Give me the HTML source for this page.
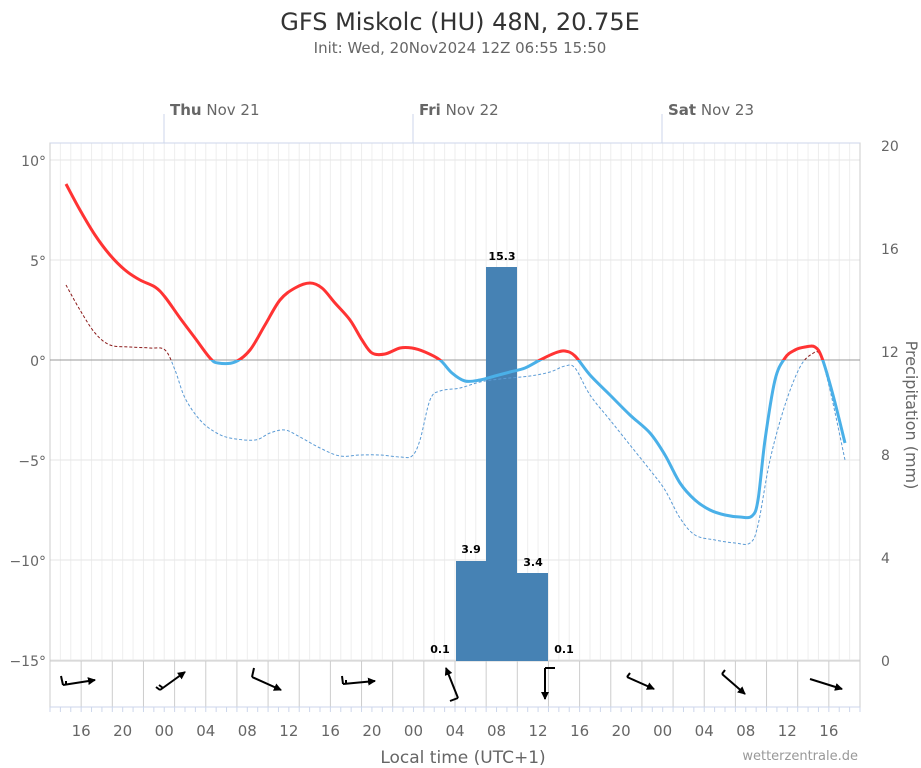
<!DOCTYPE html>
<html><head><meta charset="utf-8"><style>
body{margin:0;background:#fff;}
svg{display:block;font-family:"DejaVu Sans","Liberation Sans",sans-serif;}
</style></head><body>
<svg id="s" width="921" height="768" viewBox="0 0 921 768">
<defs>
<clipPath id="above"><rect x="40" y="100" width="840" height="260"/></clipPath>
<clipPath id="below"><rect x="40" y="360" width="840" height="320"/></clipPath>
<marker id="ah" markerWidth="8" markerHeight="8" refX="7" refY="4" orient="auto" markerUnits="userSpaceOnUse"><path d="M0,0 L8,4 L0,8 z" fill="#000"/></marker>
</defs>
<text x="460" y="30" text-anchor="middle" font-size="24" fill="#333">GFS Miskolc (HU) 48N, 20.75E</text>
<text x="460" y="53" text-anchor="middle" font-size="15" fill="#666">Init: Wed, 20Nov2024 12Z 06:55 15:50</text>
<g id="grid"></g>
<rect x="50" y="143" width="810" height="564" fill="none" stroke="#ccc"/>
<line x1="50" y1="661" x2="860" y2="661" stroke="#ccc"/>
<line x1="50" y1="707" x2="860" y2="707" stroke="#ccd6eb"/>
<line x1="50" y1="360" x2="860" y2="360" stroke="#999"/>
<line x1="50" y1="143" x2="860" y2="143" stroke="#ccd6eb"/>
<g font-size="15" fill="#666">
<line x1="164" y1="114" x2="164" y2="143" stroke="#ccd6eb"/><text x="170" y="115"><tspan font-weight="bold">Thu</tspan> Nov 21</text>
<line x1="413" y1="114" x2="413" y2="143" stroke="#ccd6eb"/><text x="419" y="115"><tspan font-weight="bold">Fri</tspan> Nov 22</text>
<line x1="662" y1="114" x2="662" y2="143" stroke="#ccd6eb"/><text x="668" y="115"><tspan font-weight="bold">Sat</tspan> Nov 23</text>
</g>
<g font-size="14" fill="#666" text-anchor="end">
<text x="46" y="166">10°</text><text x="46" y="266">5°</text><text x="46" y="366">0°</text>
<text x="46" y="466">−5°</text><text x="46" y="566">−10°</text><text x="46" y="666">−15°</text>
</g>
<g font-size="14" fill="#666" text-anchor="start">
<text x="881" y="151">20</text><text x="881" y="254">16</text><text x="881" y="357">12</text>
<text x="881" y="460">8</text><text x="881" y="563">4</text><text x="881" y="666">0</text>
</g>
<text transform="translate(906,415) rotate(90)" text-anchor="middle" font-size="16" fill="#666">Precipitation (mm)</text>
<g fill="#4682b4">
<rect x="456" y="561" width="30.5" height="100"/>
<rect x="486" y="267" width="31" height="394"/>
<rect x="517" y="573" width="31" height="88"/>
</g>
<g font-size="11" font-weight="bold" fill="#000" text-anchor="middle">
<text x="471" y="553">3.9</text><text x="502" y="260">15.3</text><text x="533" y="566">3.4</text>
<text x="440" y="653">0.1</text><text x="564" y="653">0.1</text>
</g>
<g id="curves"></g>
<g id="ticks" font-size="15" fill="#666" text-anchor="middle"></g>
<text x="463" y="763" text-anchor="middle" font-size="17" fill="#666">Local time (UTC+1)</text>
<text x="858" y="760" text-anchor="end" font-size="13" fill="#999">wetterzentrale.de</text>
<g id="wind" stroke="#000" stroke-width="2" fill="none"></g>
</svg>
<script>
var NS="http://www.w3.org/2000/svg";
function el(p,t,a){var e=document.createElementNS(NS,t);for(var k in a)e.setAttribute(k,a[k]);document.getElementById(p).appendChild(e);return e;}
var x0=50,ph=810/78;
for(var h=0;h<=78;h++){var x=x0+h*ph;el("grid","line",{x1:x,y1:143,x2:x,y2:661,stroke:"#eee"});
 if(h%3==0)el("grid","line",{x1:x,y1:661,x2:x,y2:707,stroke:"#ccc"});
 el("grid","line",{x1:x,y1:707,x2:x,y2:712,stroke:"#ccd6eb"});}
for(var y=160;y<661;y+=100)el("grid","line",{x1:50,y1:y,x2:860,y2:y,stroke:"#e6e6e6"});
var labs=["16","20","00","04","08","12"];
for(var h=3,i=0;h<=78;h+=4,i++){el("ticks","text",{x:x0+h*ph,y:736}).textContent=labs[i%6];}
function smooth(p){var d="M"+p[0][0]+","+p[0][1];for(var i=0;i<p.length-1;i++){var a=p[i-1]||p[i],b=p[i],c=p[i+1],e=p[i+2]||c;
d+=" C"+(b[0]+(c[0]-a[0])/6)+","+(b[1]+(c[1]-a[1])/6)+" "+(c[0]-(e[0]-b[0])/6)+","+(c[1]-(e[1]-b[1])/6)+" "+c[0]+","+c[1];}return d;}
var T=[[66,184],[80,210],[95,235],[110,255],[125,270],[140,280],[155,287],[165,297],[180,318],[195,338],[210,358],[218,363],[235,362],[250,350],[265,325],[280,300],[295,288],[310,283],[322,288],[335,303],[350,320],[362,340],[372,353],[385,354],[400,348],[412,348],[425,352],[440,360],[452,373],[465,381],[480,380],[495,376],[510,372],[525,368],[540,360],[555,353],[565,351],[575,356],[590,375],[610,395],[630,415],[650,433],[665,455],[680,483],[695,500],[710,510],[725,515],[740,517],[752,516],[758,500],[765,440],[775,380],[785,358],[795,350],[805,347],[815,347],[822,358],[833,395],[845,443]];
var D=[[66,285],[80,310],[95,333],[110,345],[130,347],[150,348],[165,350],[175,370],[185,398],[200,420],[215,432],[230,438],[255,440],[270,433],[285,430],[300,437],[320,448],[340,456],[360,455],[380,455],[400,457],[412,456],[420,440],[430,400],[440,391],[460,388],[480,382],[500,379],[530,376],[550,372],[565,366],[575,368],[590,395],[610,420],[630,445],[650,470],[665,490],[680,518],[695,535],[715,540],[735,543],[750,543],[758,525],[770,460],[785,405],[800,367],[812,354],[820,355],[830,390],[845,460]];
var dd=smooth(D),td=smooth(T);
el("curves","path",{d:dd,fill:"none",stroke:"#8b1a1a","stroke-width":1,"stroke-dasharray":"3,2","clip-path":"url(#above)"});
el("curves","path",{d:dd,fill:"none",stroke:"#5b9bd5","stroke-width":1,"stroke-dasharray":"3,2","clip-path":"url(#below)"});
el("curves","path",{d:td,fill:"none",stroke:"#ff3333","stroke-width":3,"clip-path":"url(#above)"});
el("curves","path",{d:td,fill:"none",stroke:"#4ab0e8","stroke-width":3,"clip-path":"url(#below)"});
var W=[[63,685,95,680,[[63,685,61,676],[66,685,66,681]]],[160,690,185,672,[[160,690,156,687],[163,688,159,685]]],[252,677,281,690,[[252,677,254,668]]],[343,684,375,681,[[343,684,342,676],[346,684,346,680]]],[458,698,446,668,[[458,698,450,701]]],[545,668,545,699,[[545,668,555,668]]],[627,677,654,689,[[627,677,630,673]]],[722,674,745,694,[[722,674,725,670]]],[810,679,842,689,[]]];
W.forEach(function(w){el("wind","line",{x1:w[0],y1:w[1],x2:w[2],y2:w[3],"marker-end":"url(#ah)"});w[4].forEach(function(b){el("wind","line",{x1:b[0],y1:b[1],x2:b[2],y2:b[3]});});});
</script>
</body></html>
